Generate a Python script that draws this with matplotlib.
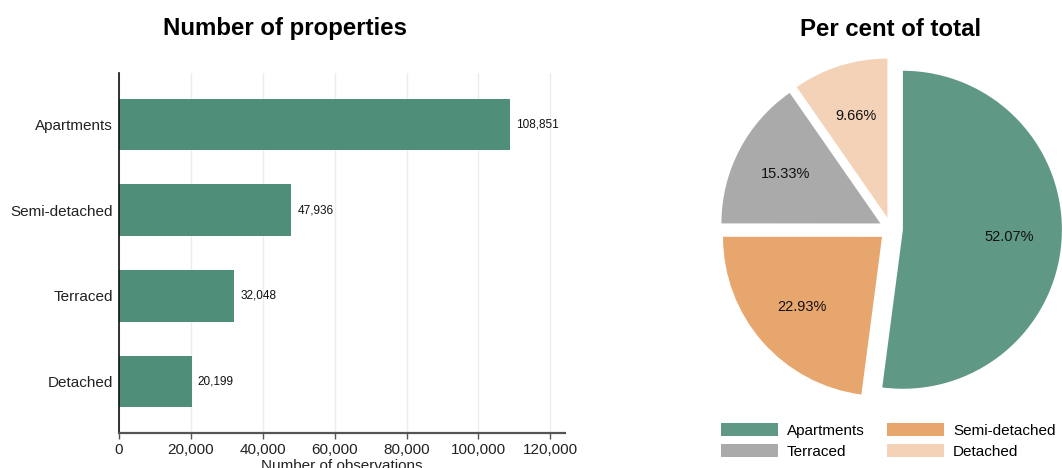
import matplotlib
matplotlib.use("Agg")
import matplotlib.pyplot as plt
from matplotlib.ticker import FuncFormatter

plt.rcParams['font.family'] = ['Liberation Sans', 'DejaVu Sans']

# Data
categories = ["Apartments", "Semi-detached", "Terraced", "Detached"]
counts = [108851, 47936, 32048, 20199]
x_ticks = [0, 20000, 40000, 60000, 80000, 100000, 120000]

bar_color = "#4f8f79"
pie_colors = ["#5f9986", "#e8a66f", "#aaaaaa", "#f3d2b7"]

W, H = 1062, 468
fig = plt.figure(figsize=(W / 100, H / 100), dpi=100)

def px_box(x0, y0, x1, y1):
    return [x0 / W, 1 - y1 / H, (x1 - x0) / W, (y1 - y0) / H]

# ---- Horizontal bar chart ----
ax = fig.add_axes(px_box(119, 73, 565, 433))
ypos = list(range(len(categories)))
ax.barh(ypos, counts, height=0.6, color=bar_color, zorder=2)
ax.set_ylim(len(categories) - 0.4, -0.6)
ax.set_xlim(0, 124100)
ax.set_yticks(ypos)
ax.set_yticklabels(categories, fontsize=11, color="#222222")
ax.set_xticks(x_ticks)
ax.xaxis.set_major_formatter(FuncFormatter(lambda v, p: f"{int(v):,}"))
ax.tick_params(axis="x", labelsize=11, length=4, width=1, color="#555555",
               labelcolor="#222222", pad=3)
ax.tick_params(axis="y", length=0, pad=4.5)
ax.grid(axis="x", color="#e6eeee", linewidth=1, zorder=0)
for s in ["top", "right"]:
    ax.spines[s].set_visible(False)
ax.spines["left"].set_color("#111111")
ax.spines["left"].set_linewidth(1.2)
ax.spines["bottom"].set_color("#555555")
ax.spines["bottom"].set_linewidth(1.6)
ax.set_xlabel("Number of observations", fontsize=11, color="#222222", labelpad=2)
for y, v in zip(ypos, counts):
    ax.annotate(f"{v:,}", (v, y), xytext=(4.5, 0), textcoords="offset points",
                va="center", ha="left", fontsize=8.5, color="#111111")

fig.text(285 / W, 1 - 29 / H, "Number of properties", fontsize=17.3,
         fontweight="bold", ha="center", va="center")

# ---- Pie chart ----
cx, cy, r = 891, 229, 159
x0, y0, x1, y1 = 700, 50, 1062, 412
pax = fig.add_axes(px_box(x0, y0, x1, y1))
wedges, texts, autotexts = pax.pie(
    counts, colors=pie_colors, startangle=90, counterclock=False,
    explode=[0.075] * len(counts), autopct="%.2f%%", pctdistance=0.67,
    textprops={"fontsize": 10.5, "color": "#111111"})
pax.set_xlim((x0 - cx) / r, (x1 - cx) / r)
pax.set_ylim(-(y1 - cy) / r, (cy - y0) / r)
pax.set_aspect("auto")
pax.axis("off")

fig.text(891 / W, 1 - 29 / H, "Per cent of total", fontsize=17.3,
         fontweight="bold", ha="center", va="center")

# Legend laid out row-wise: Apartments, Semi-detached / Terraced, Detached
order = [0, 2, 1, 3]
fig.legend([wedges[i] for i in order], [categories[i] for i in order],
           ncol=2, frameon=False, fontsize=11,
           loc="upper left", bbox_to_anchor=(721 / W, 1 - 422.5 / H),
           handlelength=3.7, handleheight=1.0, handletextpad=0.6,
           columnspacing=1.5, labelspacing=0.4, borderpad=0,
           borderaxespad=0)

fig.savefig("out.png", dpi=100)
